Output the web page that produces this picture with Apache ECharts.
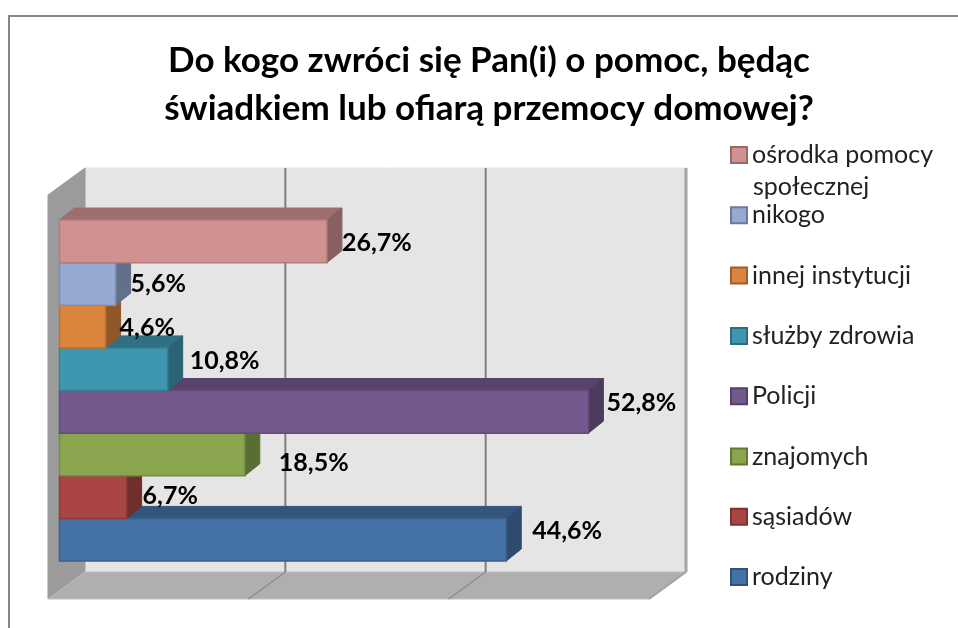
<!DOCTYPE html>
<html>
<head>
<meta charset="utf-8">
<style>html,body{margin:0;padding:0;background:#fff}#c{width:958px;height:628px}</style>
<script src="https://cdn.jsdelivr.net/npm/echarts@6/dist/echarts.min.js"></script>
</head>
<body>
<div id="c"></div>
<script>
// Data, bottom bar first
const categories = ['rodziny', 'sąsiadów', 'znajomych', 'Policji', 'służby zdrowia', 'innej instytucji', 'nikogo', 'ośrodka pomocy społecznej'];
const values = [44.6, 6.7, 18.5, 52.8, 10.8, 4.6, 5.6, 26.7];
const axisTicks = [0, 20, 40, 60];
const legendOrder = ['ośrodka pomocy społecznej', 'nikogo', 'innej instytucji', 'służby zdrowia', 'Policji', 'znajomych', 'sąsiadów', 'rodziny'];
const titleLines = 'Do kogo zwróci się Pan(i) o pomoc, będąc\nświadkiem lub ofiarą przemocy domowej?';

// Styles
const colors = ['#4471A6', '#A94543', '#89A54E', '#74598E', '#3F97AF', '#DB843D', '#95A9D1', '#D09291'];
const labelNudge = [[11, -9], [1, -1], [19, 8], [3, -9], [7, -8], [-1, 1], [0, 0], [0, 2]];
const FONT = 'Lato, "Open Sans", sans-serif';
const DEPTH = [15, -12];

function shade(hex, f) {
  const n = parseInt(hex.slice(1), 16);
  const ch = [(n >> 16) & 255, (n >> 8) & 255, n & 255].map(v => Math.round(v * f));
  return 'rgb(' + ch.join(',') + ')';
}
function poly(points, fill, z2, stroke) {
  return { type: 'polygon', z2, shape: { points }, style: { fill, stroke: stroke || fill, lineWidth: 1 } };
}

function renderWalls(params, api) {
  const v = api.value(0);
  const cs = params.coordSys;
  const top = cs.y, bot = cs.y + cs.height;
  const x = api.coord([v, 0])[0];
  const kids = [];
  const bx = x + 25.5, fx = x - 11.5;
  const backTop = top - 52, backBot = bot + 11, frontBot = bot + 38, frontTop = top - 25;
  if (v === axisTicks[0]) {
    const xEnd = api.coord([axisTicks[axisTicks.length - 1], 0])[0];
    kids.push(poly([[bx, backTop], [xEnd + 25.5, backTop], [xEnd + 25.5, backBot], [bx, backBot]], '#E5E5E5', 0));
    kids.push(poly([[fx, frontTop], [bx, backTop], [bx, backBot], [fx, frontBot]], '#9B9B9B', 1));
    kids.push(poly([[fx, frontBot], [bx, backBot], [xEnd + 25.5, backBot], [xEnd - 11.5, frontBot]], '#AFAFAF', 1, '#BDBDBD'));
  } else {
    const last = v === axisTicks[axisTicks.length - 1];
    kids.push({ type: 'line', z2: 2, shape: { x1: bx, y1: backTop, x2: bx, y2: backBot }, style: { stroke: last ? '#A3A3A3' : '#7F7F7F', lineWidth: last ? 3 : 2 } });
    kids.push({ type: 'line', z2: 2, shape: { x1: bx, y1: backBot, x2: fx, y2: frontBot }, style: { stroke: last ? '#A3A3A3' : '#8C8C8C', lineWidth: last ? 2 : 1.5 } });
  }
  return { type: 'group', children: kids };
}

function renderBar(params, api) {
  const v = api.value(0), c = api.value(1);
  const i = params.seriesIndex - 1;
  const col = colors[i];
  const p0 = api.coord([0, c]), p1 = api.coord([v, c]);
  const h = api.size([0, 1])[1];
  const t = p0[1] - h / 2, b = p0[1] + h / 2, l = p0[0], r = p1[0];
  const dx = DEPTH[0], dy = DEPTH[1];
  const nudge = labelNudge[i];
  return {
    type: 'group',
    children: [
      poly([[l, t], [l + dx, t + dy], [r + dx, t + dy], [r, t]], shade(col, 0.75), 1),
      poly([[r, t], [r + dx, t + dy], [r + dx, b + dy], [r, b]], shade(col, 0.66), 1),
      { type: 'rect', z2: 2, shape: { x: l, y: t, width: r - l, height: b - t },
        style: { fill: col, stroke: shade(col, 0.85), lineWidth: 1.5 } },
      { type: 'text', z2: 100, style: {
        text: v.toFixed(1).replace('.', ',') + '%',
        x: r + dx + nudge[0], y: p0[1] + nudge[1],
        align: 'left', verticalAlign: 'middle',
        font: 'bold 25px ' + FONT, fill: '#000' } }
    ]
  };
}

const series = [{
  type: 'custom', name: '__walls', z: 1, silent: true, clip: false,
  coordinateSystem: 'cartesian2d', renderItem: renderWalls,
  data: axisTicks.map(t => [t, 0]), encode: { x: 0, y: 1 }
}];
categories.forEach((name, i) => {
  series.push({
    type: 'custom', name, z: 2 + i, clip: false, silent: true,
    coordinateSystem: 'cartesian2d', renderItem: renderBar,
    itemStyle: { color: colors[i], borderColor: shade(colors[i], 0.72), borderWidth: 2 },
    data: [[values[i], i]], encode: { x: 0, y: 1 }
  });
});

const chart = echarts.init(document.getElementById('c'), null, { renderer: 'canvas' });
chart.setOption({
  animation: false,
  backgroundColor: '#fff',
  textStyle: { fontFamily: FONT },
  title: {
    text: titleLines, left: 484, top: 32, textAlign: 'center',
    textStyle: { fontFamily: FONT, fontWeight: 'bold', fontSize: 35, lineHeight: 48, color: '#000' }
  },
  grid: { left: 59.5, top: 220, width: 601, height: 341 },
  xAxis: { type: 'value', min: 0, max: 60, interval: 20, show: false },
  yAxis: { type: 'category', data: categories, show: false },
  legend: {
    data: legendOrder, orient: 'vertical', left: 730, top: 140, padding: 0,
    icon: 'rect', itemWidth: 16, itemHeight: 16, itemGap: 30.3, selectedMode: false,
    formatter: n => n === legendOrder[0] ? 'ośrodka pomocy' : n,
    textStyle: { fontFamily: FONT, fontSize: 25, color: '#222', height: 30, lineHeight: 30 }
  },
  graphic: [
    { type: 'polyline', silent: true, shape: { points: [[9, 628], [9, 16], [958, 16]] }, style: { stroke: '#868686', fill: null, lineWidth: 2 } },
    { type: 'text', silent: true, left: 753, top: 174, style: { text: 'społecznej', font: '25px ' + FONT, fill: '#222' } }
  ],
  series
});
</script>
</body>
</html>
